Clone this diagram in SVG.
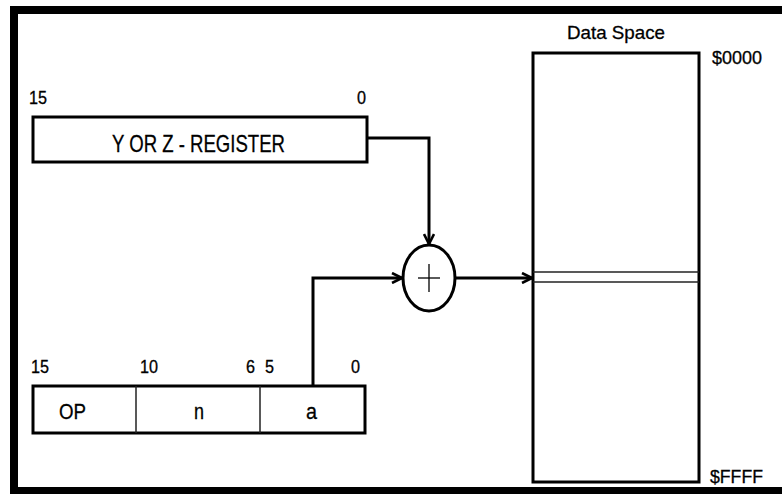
<svg xmlns="http://www.w3.org/2000/svg" width="782" height="494" viewBox="0 0 782 494">
<defs>
<style>
text{font-family:"Liberation Sans",Arial,sans-serif;fill:#000;stroke:#000;stroke-width:0.3;}
.lbl{font-size:18px;}
.box{fill:#fff;stroke:#000;stroke-width:3;}
.div{stroke:#222;stroke-width:1.5;fill:none;}
.wire{fill:none;stroke:#000;stroke-width:3;}
</style>
<marker id="arr" viewBox="0 0 12 12" refX="11" refY="6" markerWidth="12" markerHeight="12" markerUnits="userSpaceOnUse" orient="auto">
<path d="M1,1 L11,6 L1,11" fill="none" stroke="#000" stroke-width="2.6"/>
</marker>
</defs>
<rect width="782" height="494" fill="#fff"/>
<g id="frame" fill="#000">
<rect x="10" y="6" width="772" height="8"/>
<rect x="10" y="6" width="8" height="488"/>
<rect x="10" y="487" width="772" height="7"/>
</g>
<g id="yreg">
<rect class="box" x="33" y="117" width="334" height="45"/>
<text x="112" y="152" font-size="24" textLength="173" lengthAdjust="spacingAndGlyphs">Y OR Z - REGISTER</text>
<text class="lbl" x="29" y="104" textLength="18" lengthAdjust="spacingAndGlyphs">15</text>
<text class="lbl" x="357" y="104" textLength="9" lengthAdjust="spacingAndGlyphs">0</text>
</g>
<g id="instr">
<rect class="box" x="33" y="386" width="332" height="47"/>
<line class="div" x1="136" y1="386" x2="136" y2="433"/>
<line class="div" x1="260" y1="386" x2="260" y2="433"/>
<text class="lbl" x="31" y="373" textLength="18" lengthAdjust="spacingAndGlyphs">15</text>
<text class="lbl" x="140" y="373" textLength="18" lengthAdjust="spacingAndGlyphs">10</text>
<text class="lbl" x="246" y="373" textLength="9" lengthAdjust="spacingAndGlyphs">6</text>
<text class="lbl" x="265" y="373" textLength="9" lengthAdjust="spacingAndGlyphs">5</text>
<text class="lbl" x="351" y="373" textLength="9" lengthAdjust="spacingAndGlyphs">0</text>
<text x="59" y="419" font-size="22" textLength="27" lengthAdjust="spacingAndGlyphs">OP</text>
<text x="194" y="419" font-size="22" textLength="10" lengthAdjust="spacingAndGlyphs">n</text>
<text x="306" y="419" font-size="22" textLength="11" lengthAdjust="spacingAndGlyphs">a</text>
</g>
<g id="adder">
<ellipse cx="429" cy="278" rx="26" ry="33" fill="#fff" stroke="#000" stroke-width="3"/>
<line x1="418" y1="278" x2="440" y2="278" stroke="#000" stroke-width="1.3"/>
<line x1="429" y1="264" x2="429" y2="292" stroke="#000" stroke-width="1.3"/>
</g>
<g id="dataspace">
<rect class="box" x="533" y="53" width="166" height="429"/>
<line x1="533" y1="272" x2="699" y2="272" stroke="#222" stroke-width="1.6"/>
<line x1="533" y1="282" x2="699" y2="282" stroke="#222" stroke-width="1.6"/>
<text x="567" y="39" font-size="19" textLength="98" lengthAdjust="spacingAndGlyphs">Data Space</text>
<text x="712" y="64" font-size="19" textLength="50" lengthAdjust="spacingAndGlyphs">$0000</text>
<text x="710" y="483" font-size="19" textLength="53" lengthAdjust="spacingAndGlyphs">$FFFF</text>
</g>
<g id="connectors">
<path class="wire" d="M367,138 H429 V244" marker-end="url(#arr)"/>
<path class="wire" d="M313,386 V278 H402" marker-end="url(#arr)"/>
<path class="wire" d="M455,278 H532" marker-end="url(#arr)"/>
</g>
</svg>
